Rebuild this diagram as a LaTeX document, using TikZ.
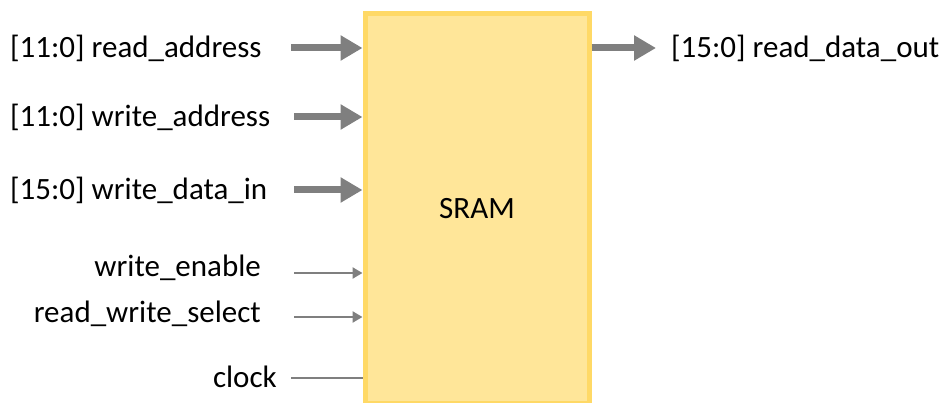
\documentclass[tikz,border=0pt]{standalone}
\usepackage{fontspec}
\setmainfont{Carlito}
\usetikzlibrary{arrows.meta,calc}
\definecolor{boxfill}{HTML}{FFE699}
\definecolor{boxline}{HTML}{FFD966}
\definecolor{wire}{HTML}{7F7F7F}
\begin{document}
\begin{tikzpicture}[x=1pt,y=-1pt,
  lbl/.style={inner sep=0pt,font=\fontsize{31}{36}\selectfont},
  bus/.style={draw=wire,line width=7pt,-{Triangle[length=22pt,width=24pt]}},
  sig/.style={draw=wire,line width=2.8pt,-{Triangle[length=10pt,width=11pt]}},
  plain/.style={draw=wire,line width=2.8pt}]
\useasboundingbox (0,0) rectangle (945,403);
\node[draw=boxline,fill=boxfill,line width=5pt,minimum width=224pt,minimum height=389pt,anchor=north west,inner sep=0pt] (sram) at (362.5,11.5) {};
\node[lbl] (title) at (sram.center) {SRAM};
% labels
\node[lbl,anchor=west] (ra) at (10,48) {[11:0] read\_address};
\node[lbl,anchor=west] (wa) at (10,117) {[11:0] write\_address};
\node[lbl,anchor=west] (wd) at (10,190) {[15:0] write\_data\_in};
\node[lbl,anchor=east] (we) at (261,268) {write\_enable};
\node[lbl,anchor=east] (rws) at (261,314) {read\_write\_select};
\node[lbl,anchor=east] (clk) at (277,377) {clock};
\node[lbl,anchor=west] (rdo) at (671,48) {[15:0] read\_data\_out};
% wire start points
\coordinate (ra0) at (291,48);
\coordinate (wa0) at (294,117);
\coordinate (wd0) at (294,190);
\coordinate (we0) at (294,273);
\coordinate (rws0) at (294,317);
\coordinate (clk0) at (291,378);
\coordinate (rdo1) at (656,48);
\draw[bus] (ra0) -- (sram.west |- ra0);
\draw[bus] (wa0) -- (sram.west |- wa0);
\draw[bus] (wd0) -- (sram.west |- wd0);
\draw[sig] (we0) -- (sram.west |- we0);
\draw[sig] (rws0) -- (sram.west |- rws0);
\draw[plain] (clk0) -- (sram.west |- clk0);
\draw[bus] (sram.east |- rdo1) -- (rdo1);
\end{tikzpicture}
\end{document}
